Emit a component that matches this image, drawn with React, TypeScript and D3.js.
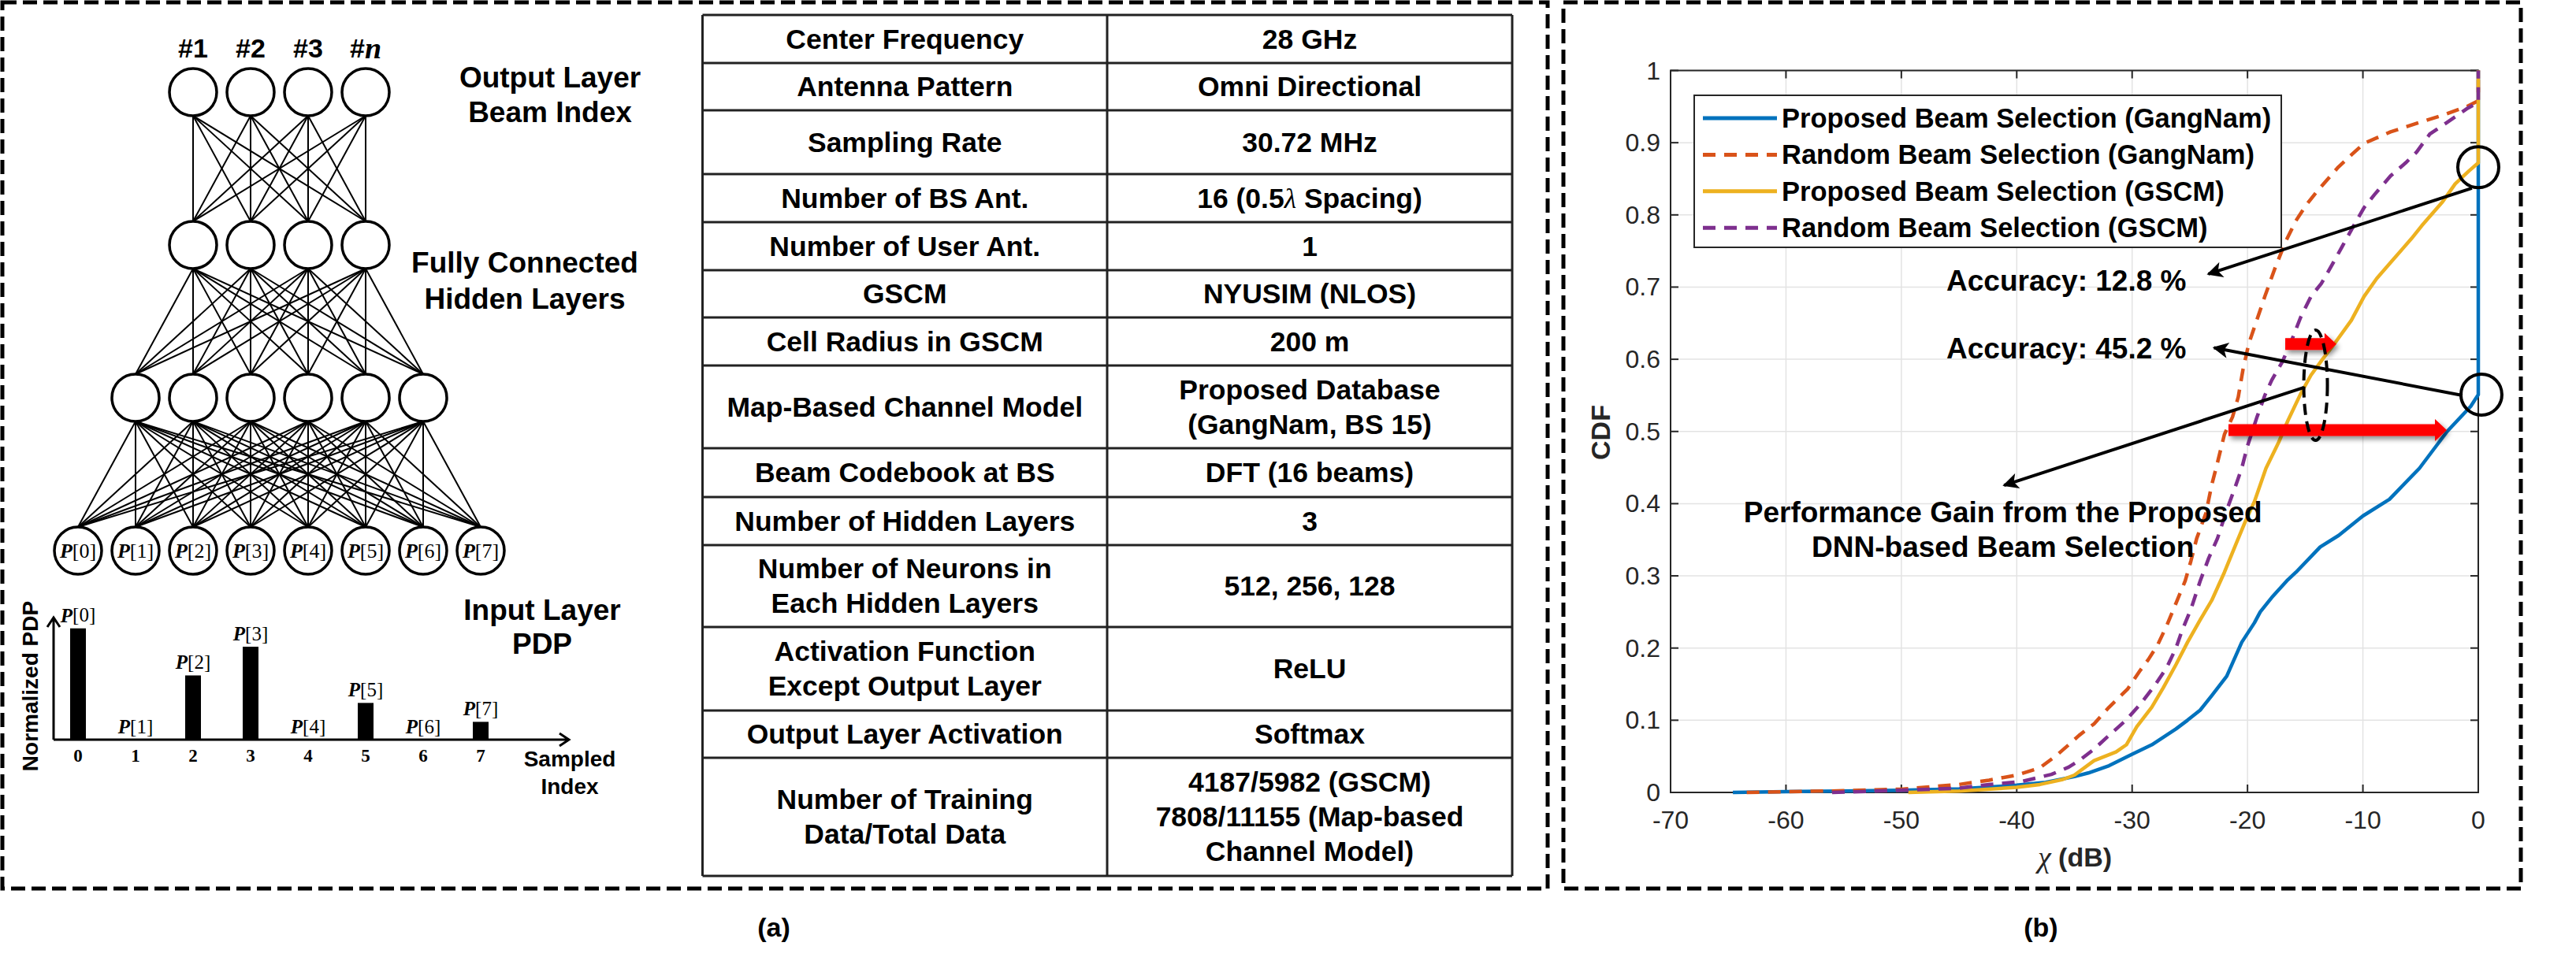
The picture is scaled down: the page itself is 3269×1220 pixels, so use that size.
import React from 'react';
import * as d3 from 'd3';

const SANS = "'Liberation Sans', Arial, sans-serif";
const SERIF = "'Liberation Serif', 'Times New Roman', serif";

// ---- (a) DNN sketch ----
const layerSizes = [8, 6, 4, 4];
const outputLabels = ['#1', '#2', '#3', '#n'];
const pdpIndex = [0, 1, 2, 3, 4, 5, 6, 7];
const pdpValues = [1.0, 0, 0.577, 0.835, 0, 0.33, 0, 0.16];

// ---- (a) parameter table ----
const tableParams = [
  'Center Frequency', 'Antenna Pattern', 'Sampling Rate', 'Number of BS Ant.',
  'Number of User Ant.', 'GSCM', 'Cell Radius in GSCM', 'Map-Based Channel Model',
  'Beam Codebook at BS', 'Number of Hidden Layers', 'Number of Neurons in\nEach Hidden Layers',
  'Activation Function\nExcept Output Layer', 'Output Layer Activation',
  'Number of Training\nData/Total Data',
];
const tableValues = [
  '28 GHz', 'Omni Directional', '30.72 MHz', '16 (0.5λ Spacing)', '1', 'NYUSIM (NLOS)',
  '200 m', 'Proposed Database\n(GangNam, BS 15)', 'DFT (16 beams)', '3', '512, 256, 128',
  'ReLU', 'Softmax', '4187/5982 (GSCM)\n7808/11155 (Map-based\nChannel Model)',
];
const rowHeights = [61, 60, 81, 61, 61, 60, 61, 105, 62, 61, 104, 106, 60, 150];

// ---- (b) CDF curves, [chi (dB), CDF] ----
const proposedGangNam = [
  [-64.6, 0], [-60, 0.001], [-55, 0.002], [-50, 0.003], [-45, 0.005], [-40, 0.01],
  [-37.5, 0.014], [-35, 0.022], [-33.8, 0.027], [-32, 0.037], [-30, 0.053], [-28.3, 0.066],
  [-26.2, 0.088], [-25.2, 0.1], [-24.1, 0.114], [-23.1, 0.134], [-21.8, 0.161], [-20.5, 0.208],
  [-19.4, 0.235], [-18.9, 0.25], [-17.9, 0.27], [-16.6, 0.293], [-15.8, 0.305], [-13.7, 0.34],
  [-12.1, 0.356], [-10, 0.383], [-7.7, 0.406], [-5.1, 0.449], [-2.7, 0.5], [-0.65, 0.535],
  [0, 0.551], [0, 1],
];
const randomGangNam = [
  [-63.4, 0], [-60, 0.001], [-56, 0.002], [-50, 0.0045], [-45, 0.011], [-42.4, 0.017],
  [-40, 0.024], [-38, 0.034], [-36.5, 0.052], [-35.5, 0.066], [-34.6, 0.079], [-33.3, 0.095],
  [-32, 0.118], [-30.4, 0.143], [-29.3, 0.169], [-28.6, 0.184], [-27.8, 0.204], [-27, 0.231],
  [-26.2, 0.262], [-25.4, 0.293], [-24.9, 0.321], [-24.4, 0.352], [-23.6, 0.387], [-23.1, 0.426],
  [-22.6, 0.457], [-22, 0.496], [-21.3, 0.52], [-20.8, 0.548], [-20.4, 0.585], [-19.9, 0.621],
  [-19.2, 0.654], [-18.5, 0.687], [-17.6, 0.727], [-16.7, 0.763], [-15.8, 0.792], [-14.9, 0.814],
  [-14, 0.832], [-12.2, 0.865], [-11, 0.883], [-9.9, 0.899], [-7.6, 0.915], [-5.3, 0.927],
  [-3.1, 0.938], [-1, 0.95], [0, 0.958], [0, 1],
];
const proposedGSCM = [
  [-49.4, 0], [-45, 0.002], [-40, 0.007], [-38, 0.011], [-36, 0.018], [-35, 0.024],
  [-33.3, 0.044], [-31.4, 0.056], [-30.5, 0.066], [-29.6, 0.091], [-28.3, 0.118], [-27.3, 0.145],
  [-26.2, 0.177], [-25.2, 0.208], [-24.1, 0.239], [-23.1, 0.266], [-22, 0.305], [-21, 0.344],
  [-20.2, 0.375], [-19.4, 0.403], [-18.4, 0.449], [-17.3, 0.485], [-16.5, 0.515], [-15.4, 0.552],
  [-14.5, 0.578], [-13.5, 0.6], [-12.4, 0.623], [-11, 0.654], [-9.9, 0.687], [-8.8, 0.712],
  [-7.6, 0.734], [-5.8, 0.767], [-4.9, 0.785], [-3.1, 0.818], [-2, 0.843], [-0.8, 0.861],
  [0, 0.872], [0, 1],
];
const randomGSCM = [
  [-56, 0], [-50, 0.003], [-45, 0.006], [-42.4, 0.011], [-39.6, 0.015], [-37, 0.025],
  [-35.5, 0.035], [-34.6, 0.044], [-33.3, 0.06], [-32, 0.079], [-30.6, 0.099], [-29.3, 0.122],
  [-28, 0.149], [-27, 0.173], [-26.2, 0.2], [-25.7, 0.223], [-24.9, 0.254], [-24.1, 0.293],
  [-23.35, 0.325], [-22.6, 0.352], [-21.8, 0.391], [-21, 0.426], [-20.5, 0.449], [-20, 0.48],
  [-19.2, 0.519], [-18.5, 0.55], [-17.9, 0.571], [-17, 0.596], [-16.3, 0.621], [-15.4, 0.658],
  [-14.5, 0.687], [-13.6, 0.705], [-12.7, 0.73], [-11.8, 0.756], [-10.8, 0.785], [-9.9, 0.81],
  [-9, 0.828], [-7.6, 0.854], [-6.3, 0.872], [-5.35, 0.887], [-4.2, 0.912], [-2.8, 0.927],
  [-1, 0.947], [0, 0.956], [0, 1],
];
const seriesNames = [
  'Proposed Beam Selection (GangNam)', 'Random Beam Selection (GangNam)',
  'Proposed Beam Selection (GSCM)', 'Random Beam Selection (GSCM)',
];
const seriesData = [proposedGangNam, randomGangNam, proposedGSCM, randomGSCM];
const seriesColors = ['#0072BD', '#D95319', '#EDB120', '#7E2F8E'];
const seriesDashed = [false, true, false, true];

// annotation anchors in data units
const accuracyNotes = [
  { text: 'Accuracy: 12.8 %', at: [-35.7, 0.709], from: [-0.55, 0.837], to: [-23.4, 0.718], ring: [0, 0.866] },
  { text: 'Accuracy: 45.2 %', at: [-35.7, 0.615], from: [-1.37, 0.55], to: [-22.9, 0.616], ring: [0.27, 0.551] },
];
const gainNote = { lines: ['Performance Gain from the Proposed', 'DNN-based Beam Selection'], at: [-41.2, 0.388], from: [-15.1, 0.561], to: [-41.1, 0.4255] };
const gainArrows = [
  { x0: -21.65, x1: -2.73, y: 0.502 },
  { x0: -16.73, x1: -12.3, y: 0.621 },
];
const gainEllipse = [-14.1, 0.564];

function Network() {
  const R = 30;
  const nodeX = d3.scaleLinear().domain([0, 7]).range([99, 610]);
  const layerY = d3.scaleLinear().domain([0, 3]).range([699, 117]);
  const layers = layerSizes.map((n, li) =>
    d3.range(n).map(i => ({ x: nodeX(i + (8 - n) / 2), y: layerY(li) })));
  const edges: any[] = [];
  for (let li = 0; li < layers.length - 1; li++) {
    layers[li].forEach(a => layers[li + 1].forEach(b => edges.push({ a, b })));
  }
  const barY = d3.scaleLinear().domain([0, 1]).range([939, 797.7]);
  const big = { fontFamily: SANS, fontWeight: 700, fontSize: 37, textAnchor: 'middle' as const, dominantBaseline: 'central' as const };
  return (
    <g>
      {edges.map((e, i) => (
        <line key={i} x1={e.a.x} y1={e.a.y - R} x2={e.b.x} y2={e.b.y + R} stroke="#000" strokeWidth={2} />
      ))}
      {layers.map((layer, li) => layer.map((n, i) => (
        <circle key={`${li}-${i}`} cx={n.x} cy={n.y} r={R} fill="#fff" stroke="#000" strokeWidth={3.5} />
      )))}
      {layers[0].map((n, i) => (
        <text key={i} x={n.x} y={n.y} fontFamily={SERIF} fontSize={26} textAnchor="middle" dominantBaseline="central">
          <tspan fontStyle="italic" fontWeight={700}>P</tspan>[{pdpIndex[i]}]
        </text>
      ))}
      {layers[3].map((n, i) => {
        const lbl = outputLabels[i];
        return (
          <text key={i} x={n.x} y={61} fontFamily={SANS} fontWeight={700} fontSize={34} textAnchor="middle" dominantBaseline="central">
            #{lbl.slice(1) === 'n'
              ? <tspan fontFamily={SERIF} fontStyle="italic" fontSize={38}>n</tspan>
              : lbl.slice(1)}
          </text>
        );
      })}
      <text x={698} y={98} {...big}>Output Layer</text>
      <text x={698} y={142} {...big}>Beam Index</text>
      <text x={666} y={333} {...big}>Fully Connected</text>
      <text x={666} y={379} {...big}>Hidden Layers</text>
      <text x={688} y={774} {...big}>Input Layer</text>
      <text x={688} y={817} {...big}>PDP</text>

      {/* PDP bars */}
      {pdpValues.map((v, i) => (
        <g key={i}>
          {v > 0 && <rect x={nodeX(i) - 10} y={barY(v)} width={20} height={barY(0) - barY(v)} fill="#000" />}
          <text x={nodeX(i)} y={barY(v) - 17} fontFamily={SERIF} fontSize={25} textAnchor="middle" dominantBaseline="central">
            <tspan fontStyle="italic" fontWeight={700}>P</tspan>[{pdpIndex[i]}]
          </text>
          <text x={nodeX(i)} y={959} fontFamily={SERIF} fontWeight={700} fontSize={23} textAnchor="middle" dominantBaseline="central">
            {pdpIndex[i]}
          </text>
        </g>
      ))}
      <path d={`M68,${barY(0)} V784 M60,796 L68,784 L76,796`} fill="none" stroke="#000" strokeWidth={3} />
      <path d={`M68,${barY(0)} H722 M710,931 L722,939 L710,947`} fill="none" stroke="#000" strokeWidth={3} />
      <text transform="translate(38,871) rotate(-90)" fontFamily={SANS} fontWeight={700} fontSize={28} textAnchor="middle" dominantBaseline="central">Normalized PDP</text>
      <text x={723} y={963} fontFamily={SANS} fontWeight={700} fontSize={28} textAnchor="middle" dominantBaseline="central">Sampled</text>
      <text x={723} y={998} fontFamily={SANS} fontWeight={700} fontSize={28} textAnchor="middle" dominantBaseline="central">Index</text>
    </g>
  );
}

function CellText({ x, yc, text }: { x: number; yc: number; text: string }) {
  const lines = text.split('\n');
  const lh = 44;
  return (
    <text fontFamily={SANS} fontWeight={700} fontSize={35.5} textAnchor="middle" dominantBaseline="central">
      {lines.map((ln, i) => {
        const y = yc + (i - (lines.length - 1) / 2) * lh;
        const parts = ln.split('λ');
        return (
          <tspan key={i} x={x} y={y}>
            {parts.map((p, j) => (
              <React.Fragment key={j}>
                {j > 0 && <tspan fontFamily={SERIF} fontStyle="italic" fontWeight={400}>λ</tspan>}
                {p}
              </React.Fragment>
            ))}
          </tspan>
        );
      })}
    </text>
  );
}

function ParamTable() {
  const x0 = 891.5, xm = 1405, x1 = 1919, top = 19;
  const edges = [top, ...d3.cumsum(rowHeights).map(h => top + h)];
  return (
    <g>
      {edges.map((y, i) => <line key={i} x1={x0} x2={x1} y1={y} y2={y} stroke="#222" strokeWidth={3} />)}
      {[x0, xm, x1].map((x, i) => <line key={i} x1={x} x2={x} y1={top} y2={edges[edges.length - 1]} stroke="#222" strokeWidth={3} />)}
      {tableParams.map((p, i) => {
        const yc = (edges[i] + edges[i + 1]) / 2;
        return (
          <g key={i}>
            <CellText x={(x0 + xm) / 2} yc={yc} text={p} />
            <CellText x={(xm + x1) / 2} yc={yc} text={tableValues[i]} />
          </g>
        );
      })}
    </g>
  );
}

function CdfChart() {
  const x = d3.scaleLinear().domain([-70, 0]).range([2120, 3145]);
  const y = d3.scaleLinear().domain([0, 1]).range([1006, 89.5]);
  const line = d3.line<number[]>().x(d => x(d[0])).y(d => y(d[1]));
  const xt = x.ticks(7);
  const yt = y.ticks(10);
  const axisC = '#262626';
  const tl = 10;
  const [xl, xr] = x.range();
  const [yb, ytop] = y.range();
  const legX = 2150, legY = 121, legW = 745, legH = 193;
  const note = { fontFamily: SANS, fontWeight: 700, fontSize: 37, textAnchor: 'middle' as const, dominantBaseline: 'central' as const };
  const redArrow = (a: { x0: number; x1: number; y: number }) => {
    const X0 = x(a.x0), X1 = x(a.x1), Y = y(a.y), hb = 7.5, hh = 14, hl = 15;
    return `M${X0},${Y - hb} L${X1 - hl},${Y - hb} L${X1 - hl},${Y - hh} L${X1},${Y} L${X1 - hl},${Y + hh} L${X1 - hl},${Y + hb} L${X0},${Y + hb} Z`;
  };
  return (
    <g>
      <defs>
        <clipPath id="plotClip"><rect x={xl - 4} y={ytop - 4} width={xr - xl + 8} height={yb - ytop + 8} /></clipPath>
        <marker id="ah" viewBox="0 0 10 10" refX={9} refY={5} markerWidth={6} markerHeight={5} orient="auto" markerUnits="strokeWidth">
          <path d="M0,0 L10,5 L0,10 L2.5,5 Z" fill="#000" />
        </marker>
        <filter id="shadow" x="-10%" y="-50%" width="130%" height="250%">
          <feDropShadow dx={3} dy={4} stdDeviation={3} floodColor="#000" floodOpacity={0.45} />
        </filter>
      </defs>
      {/* grid */}
      {xt.map(t => <line key={`gx${t}`} x1={x(t)} x2={x(t)} y1={yb} y2={ytop} stroke="#e3e3e3" strokeWidth={1.5} />)}
      {yt.map(t => <line key={`gy${t}`} x1={xl} x2={xr} y1={y(t)} y2={y(t)} stroke="#e3e3e3" strokeWidth={1.5} />)}
      {/* axes box + inward ticks */}
      <rect x={xl} y={ytop} width={xr - xl} height={yb - ytop} fill="none" stroke={axisC} strokeWidth={2} />
      {xt.map(t => (
        <g key={`tx${t}`}>
          <line x1={x(t)} x2={x(t)} y1={yb} y2={yb - tl} stroke={axisC} strokeWidth={2} />
          <line x1={x(t)} x2={x(t)} y1={ytop} y2={ytop + tl} stroke={axisC} strokeWidth={2} />
          <text x={x(t)} y={1041} fontFamily={SANS} fontSize={32} fill={axisC} textAnchor="middle" dominantBaseline="central">{String(t)}</text>
        </g>
      ))}
      {yt.map(t => (
        <g key={`ty${t}`}>
          <line x1={xl} x2={xl + tl} y1={y(t)} y2={y(t)} stroke={axisC} strokeWidth={2} />
          <line x1={xr} x2={xr - tl} y1={y(t)} y2={y(t)} stroke={axisC} strokeWidth={2} />
          <text x={2107} y={y(t)} fontFamily={SANS} fontSize={32} fill={axisC} textAnchor="end" dominantBaseline="central">{String(t)}</text>
        </g>
      ))}
      <text transform="translate(2031,549) rotate(-90)" fontFamily={SANS} fontWeight={700} fontSize={34} fill={axisC} textAnchor="middle" dominantBaseline="central">CDF</text>
      <text x={2633} y={1088} fill={axisC} textAnchor="middle" dominantBaseline="central">
        <tspan fontFamily={SERIF} fontStyle="italic" fontSize={38}>χ</tspan>
        <tspan fontFamily={SANS} fontWeight={700} fontSize={34}> (dB)</tspan>
      </text>

      {/* curves */}
      <g clipPath="url(#plotClip)">
        {seriesData.map((d, i) => (
          <path key={i} d={line(d) || ''} fill="none" stroke={seriesColors[i]} strokeWidth={4.5}
            strokeDasharray={seriesDashed[i] ? '16 11' : undefined} strokeLinejoin="round" />
        ))}
      </g>

      {/* legend */}
      <rect x={legX} y={legY} width={legW} height={legH} fill="#fff" stroke={axisC} strokeWidth={2} />
      {seriesNames.map((s, i) => {
        const yy = 150 + i * 46.4;
        return (
          <g key={i}>
            <line x1={2161} x2={2255} y1={yy} y2={yy} stroke={seriesColors[i]} strokeWidth={5}
              strokeDasharray={seriesDashed[i] ? '16 11' : undefined} />
            <text x={2261} y={yy} fontFamily={SANS} fontWeight={700} fontSize={34.5} dominantBaseline="central">{s}</text>
          </g>
        );
      })}

      {/* annotations */}
      {accuracyNotes.map((a, i) => (
        <g key={i}>
          <circle cx={x(a.ring[0])} cy={y(a.ring[1])} r={26} fill="none" stroke="#000" strokeWidth={4} />
          <line x1={x(a.from[0])} y1={y(a.from[1])} x2={x(a.to[0])} y2={y(a.to[1])} stroke="#000" strokeWidth={4} markerEnd="url(#ah)" />
          <text x={x(a.at[0])} y={y(a.at[1])} {...note}>{a.text}</text>
        </g>
      ))}
      <line x1={x(gainNote.from[0])} y1={y(gainNote.from[1])} x2={x(gainNote.to[0])} y2={y(gainNote.to[1])} stroke="#000" strokeWidth={4} markerEnd="url(#ah)" />
      {gainNote.lines.map((ln, i) => (
        <text key={i} x={x(gainNote.at[0])} y={y(gainNote.at[1]) + i * 44} {...note}>{ln}</text>
      ))}
      {gainArrows.map((a, i) => <path key={i} d={redArrow(a)} fill="#ff0000" filter="url(#shadow)" />)}
      <ellipse cx={x(gainEllipse[0])} cy={y(gainEllipse[1])} rx={15} ry={70} fill="none" stroke="#000" strokeWidth={4} strokeDasharray="14 8" />
    </g>
  );
}

export default function App() {
  const dash = { fill: 'none', stroke: '#000', strokeWidth: 5, strokeDasharray: '18 8' };
  return (
    <svg width={3269} height={1220} viewBox="0 0 3269 1220"
      style={{ position: 'absolute', left: 0, top: 0, background: '#fff' }}>
      <rect x={0} y={0} width={3269} height={1220} fill="#fff" />
      <rect x={3} y={3} width={1961} height={1125} {...dash} />
      <rect x={1984} y={3} width={1215} height={1125} {...dash} />
      <Network />
      <ParamTable />
      <CdfChart />
      <text x={982} y={1177} fontFamily={SANS} fontWeight={700} fontSize={34} textAnchor="middle" dominantBaseline="central">(a)</text>
      <text x={2590} y={1177} fontFamily={SANS} fontWeight={700} fontSize={34} textAnchor="middle" dominantBaseline="central">(b)</text>
    </svg>
  );
}
